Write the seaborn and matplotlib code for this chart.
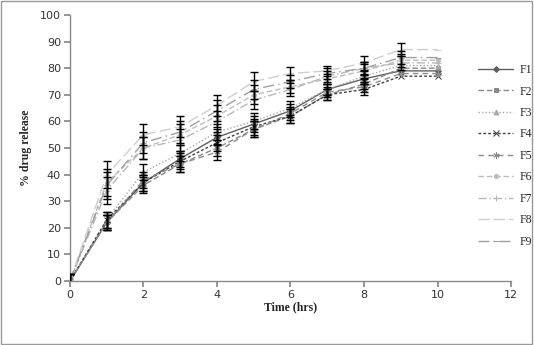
import matplotlib
matplotlib.use("Agg")
import matplotlib.pyplot as plt
import seaborn as sns
import numpy as np
import pandas as pd

time_hrs = [0, 1, 2, 3, 4, 5, 6, 7, 8, 9, 10]
F1 = [0, 22, 37, 46, 54, 59, 64, 72, 76, 79, 79]
F2 = [0, 22, 36, 44, 50, 57, 62, 70, 74, 80, 80]
F3 = [0, 23, 41, 48, 56, 60, 65, 72, 77, 81, 81]
F4 = [0, 23, 37, 45, 52, 58, 62, 70, 72, 77, 77]
F5 = [0, 22, 38, 44, 48.5, 57, 63, 71, 73, 78, 78]
F6 = [0, 37, 50, 55, 62, 70, 73, 76, 79, 83, 83]
F7 = [0, 34, 50, 53, 60, 68, 72, 77, 80, 82, 82]
F8 = [0, 40, 55, 58, 66, 75, 78, 79, 82, 87, 87]
F9 = [0, 36, 52, 56, 64, 72, 75, 78, 80, 84, 84]
sd_low = [2.5, 3, 3, 3, 3, 3, 2.5, 2, 2, 0, 0]
sd_high = [0, 5, 4, 4, 4, 3.5, 2.5, 2, 2.5, 2.5, 0]
labels = ["F1", "F2", "F3", "F4", "F5", "F6", "F7", "F8", "F9"]

series = [F1, F2, F3, F4, F5, F6, F7, F8, F9]
styles = [
    dict(color="#606060", ls="-", marker="D", ms=3),
    dict(color="#8a8a8a", ls=(0, (4, 2)), marker="s", ms=3),
    dict(color="#a8a8a8", ls=(0, (1, 1.5)), marker="^", ms=3.5),
    dict(color="#404040", ls=(0, (2, 1.5)), marker="x", ms=4),
    dict(color="#8c8c8c", ls=(0, (4, 3)), marker=(6, 2, 0), ms=4.5),
    dict(color="#bdbdbd", ls=(0, (4, 2)), marker="o", ms=3),
    dict(color="#b8b8b8", ls=(0, (6, 2, 1, 2)), marker="+", ms=5),
    dict(color="#cfcfcf", ls=(0, (8, 3)), marker="_", ms=4),
    dict(color="#a0a0a0", ls=(0, (8, 3, 1, 3)), marker="_", ms=4),
]

sns.set_theme(style="white")
plt.rcParams["font.family"] = ["DejaVu Sans"]

fig = plt.figure(figsize=(5.34, 3.45), dpi=100)
fig.patch.set_facecolor("white")
ax = fig.add_axes([0.131, 0.1855, 0.826, 0.771])

for i, (lab, vals, st) in enumerate(zip(labels, series, styles)):
    df = pd.DataFrame({"t": time_hrs, "v": vals})
    sns.lineplot(data=df, x="t", y="v", ax=ax, color=st["color"], linestyle=st["ls"],
                 marker=st["marker"], markersize=st["ms"], markeredgecolor=st["color"],
                 markerfacecolor=st["color"], linewidth=1.0, label=lab, errorbar=None)
    sd = sd_low if i < 5 else sd_high
    tt = [t for t, s in zip(time_hrs, sd) if s > 0]
    vv = [v for v, s in zip(vals, sd) if s > 0]
    ss = [s for s in sd if s > 0]
    ax.errorbar(tt, vv, yerr=ss, fmt="none", ecolor="black", elinewidth=1.0,
                capsize=3, capthick=1.0, zorder=5)

ax.set_xlim(0, 12)
ax.set_ylim(0, 100)
ax.set_xticks(range(0, 13, 2))
ax.set_yticks(range(0, 101, 10))
ax.tick_params(axis="both", labelsize=8, colors="#333333", length=4, direction="out",
               left=True, bottom=True, color="#888888", pad=2.5)
for s in ["top", "right"]:
    ax.spines[s].set_visible(False)
for s in ["left", "bottom"]:
    ax.spines[s].set_color("#888888")
    ax.spines[s].set_linewidth(1.0)
ax.set_xlabel("Time (hrs)", fontsize=8.5, fontweight="bold", family="Liberation Serif", labelpad=1)
ax.set_ylabel("% drug release", fontsize=8.5, fontweight="bold", family="Liberation Serif", labelpad=6)

h, l = ax.get_legend_handles_labels()
ax.get_legend().remove()
leg = fig.legend(h, l, loc="upper left", bbox_to_anchor=(0.875, 0.845), frameon=False,
                 fontsize=8.5, labelspacing=0.8, handlelength=3.0, handletextpad=0.5)
for t in leg.get_texts():
    t.set_family("Liberation Serif")

border = plt.Rectangle((0.002, 0.003), 0.995, 0.994, transform=fig.transFigure,
                       fill=False, edgecolor="#999999", linewidth=1.0)
fig.patches.append(border)

fig.savefig("out.png", dpi=100)
